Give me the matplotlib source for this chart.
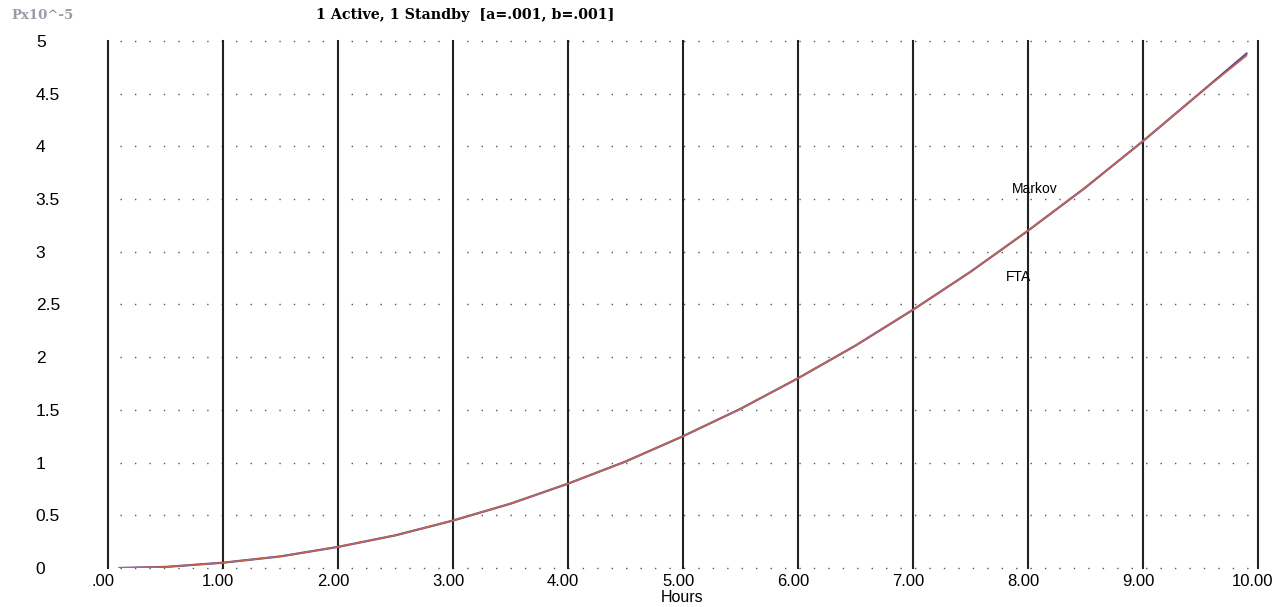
import numpy as np
import matplotlib.pyplot as plt
from matplotlib.transforms import ScaledTranslation

# valeurs (P x 10^-5 en fonction des heures)
hours = [0.1, 0.5, 1.0, 1.5, 2.0, 2.5, 3.0, 3.5, 4.0, 4.5, 5.0,
         5.5, 6.0, 6.5, 7.0, 7.5, 8.0, 8.5, 9.0, 9.5, 9.9]
markov = [0.0, 0.01, 0.05, 0.11, 0.2, 0.31, 0.45, 0.61, 0.8, 1.01, 1.25,
          1.51, 1.8, 2.11, 2.45, 2.81, 3.2, 3.61, 4.05, 4.51, 4.88]
fta = [0.0, 0.01, 0.05, 0.11, 0.2, 0.31, 0.45, 0.61, 0.8, 1.01, 1.25,
       1.51, 1.8, 2.11, 2.45, 2.81, 3.2, 3.61, 4.05, 4.51, 4.86]

xticks = np.arange(0, 11)
xlabels = ['.00', '1.00', '2.00', '3.00', '4.00', '5.00',
           '6.00', '7.00', '8.00', '9.00', '10.00']
yticks = [0, 0.5, 1, 1.5, 2, 2.5, 3, 3.5, 4, 4.5, 5]
ylabels = ['0', '0.5', '1', '1.5', '2', '2.5', '3', '3.5', '4', '4.5', '5']

plt.rcParams['font.family'] = ['Liberation Sans', 'DejaVu Sans']

fig = plt.figure(figsize=(12.88, 6.07), dpi=100)
ax = fig.add_axes([0.0839, 0.0643, 0.8928, 0.8682])

# lignes verticales noires pour chaque heure
for xv in xticks:
    ax.axvline(xv, color='#222222', lw=1.5, zorder=1, clip_on=False)

# grille horizontale pointillée
for yv in yticks:
    ax.plot([0.1, 9.95], [yv, yv], color='#555555', lw=1.0,
            linestyle=(0, (1, 9.4)), zorder=0.5, clip_on=False)

ax.plot(hours, markov, color='#5a4f8e', lw=1.6, zorder=2)
ax.plot(hours, fta, color='#c8644e', lw=1.1, zorder=3)

ax.text(7.86, 3.6, 'Markov', fontsize=10, ha='left', va='center')
ax.text(7.81, 2.76, 'FTA', fontsize=10, ha='left', va='center')

ax.set_xlim(0, 10)
ax.set_ylim(0, 5)
ax.set_xticks(xticks)
ax.set_xticklabels(xlabels, fontsize=12)
ax.set_yticks(yticks)
ax.set_yticklabels(ylabels, fontsize=12.5, ha='left')
ax.tick_params(axis='both', length=0)
ax.tick_params(axis='x', pad=4.5)
ax.tick_params(axis='y', pad=52)
# les étiquettes des heures sont un peu décalées à gauche
shift = ScaledTranslation(-5 / 100, 0, fig.dpi_scale_trans)
for lab in ax.get_xticklabels():
    lab.set_transform(lab.get_transform() + shift)
for s in ax.spines.values():
    s.set_visible(False)

fig.text(0.5295, 0.015, 'Hours', fontsize=11.5, ha='center', va='center')

fig.text(0.009, 0.975, 'Px10^-5', fontsize=9.5, fontweight='bold',
         family='DejaVu Serif', color='#9a9aa8', va='center', ha='left')
fig.text(0.245, 0.975, '1 Active, 1 Standby  [a=.001, b=.001]', fontsize=10.3,
         fontweight='bold', family='DejaVu Serif', va='center', ha='left')

fig.savefig('out.png', dpi=100)
